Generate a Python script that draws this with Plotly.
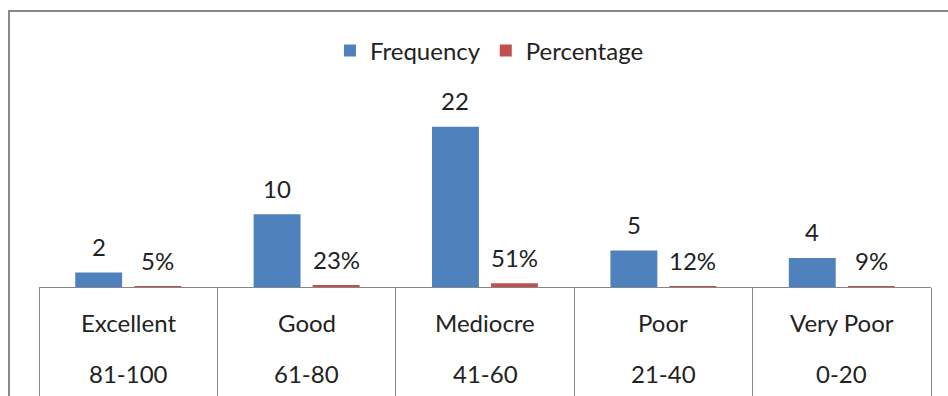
import plotly.graph_objects as go

# Rating bands and their score ranges
categories = ["Excellent", "Good", "Mediocre", "Poor", "Very Poor"]
ranges = ["81-100", "61-80", "41-60", "21-40", "0-20"]
frequency = [2, 10, 22, 5, 4]
percentage = [0.05, 0.23, 0.51, 0.12, 0.09]

BLUE = "#4F81BD"
RED = "#C0504D"
GRID = "#878787"
TEXT = "#222222"
FONT = "Lato"

x = list(range(len(categories)))
bar_w = 0.263
blue_off = -0.297
red_off = 0.034

fig = go.Figure()
fig.add_trace(go.Bar(name="Frequency", x=x, y=frequency, marker_color=BLUE,
                     width=bar_w, offset=blue_off, marker_line_width=0))
fig.add_trace(go.Bar(name="Percentage", x=x, y=percentage, marker_color=RED,
                     width=bar_w, offset=red_off, marker_line_width=0))

annotations = []
# value labels above each bar
for i, (f, p) in enumerate(zip(frequency, percentage)):
    annotations.append(dict(x=i + blue_off + bar_w / 2, y=f, xref="x", yref="y",
                            text=str(f), showarrow=False, yanchor="middle", yshift=26,
                            font=dict(family=FONT, size=24, color=TEXT)))
    annotations.append(dict(x=i + red_off + bar_w / 2, y=p, xref="x", yref="y",
                            text=f"{round(p * 100)}%", showarrow=False, yanchor="middle",
                            yshift=26, font=dict(family=FONT, size=24, color=TEXT)))
# two-level category labels under the axis
for i, (c, r) in enumerate(zip(categories, ranges)):
    annotations.append(dict(x=i, y=0, xref="x", yref="paper", text=c, showarrow=False,
                            yanchor="middle", yshift=-35,
                            font=dict(family=FONT, size=24, color=TEXT)))
    annotations.append(dict(x=i, y=0, xref="x", yref="paper", text=r, showarrow=False,
                            yanchor="middle", yshift=-86,
                            font=dict(family=FONT, size=24, color=TEXT)))

boundaries = [i - 0.5 for i in range(len(categories) + 1)]

fig.update_layout(
    width=948, height=396,
    margin=dict(l=39, r=17, t=105, b=109, autoexpand=False),
    paper_bgcolor="white", plot_bgcolor="white",
    barmode="overlay",
    showlegend=True,
    legend=dict(orientation="h", x=0.505, xanchor="center", y=1.297, yanchor="middle",
                font=dict(family=FONT, size=24, color=TEXT), bgcolor="rgba(0,0,0,0)",
                itemwidth=30),
    xaxis=dict(range=[-0.5, len(categories) - 0.5], tickmode="array", tickvals=boundaries,
               ticktext=[""] * len(boundaries), ticks="outside", ticklen=130,
               tickcolor=GRID, tickwidth=1, showline=True, linecolor=GRID, linewidth=1,
               showgrid=False, zeroline=False, fixedrange=True, automargin=False),
    yaxis=dict(range=[0, 25], visible=False, showgrid=False, zeroline=False,
               automargin=False),
    annotations=annotations,
    shapes=[dict(type="rect", xref="paper", yref="paper", x0=-0.0336, x1=1.2,
                 y0=-1.0, y1=1.5165, line=dict(color="#888888", width=2),
                 fillcolor="rgba(0,0,0,0)", layer="below")],
)

fig.write_html("out.html")
